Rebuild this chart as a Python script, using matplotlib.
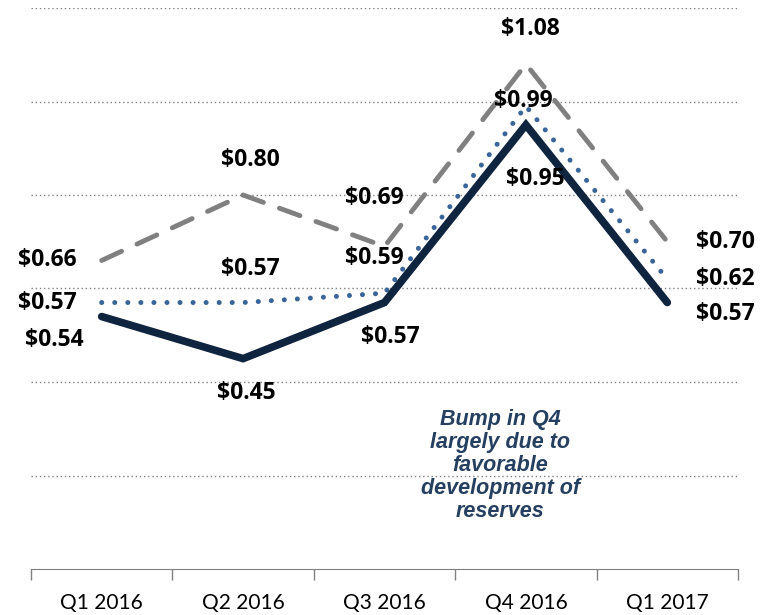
import matplotlib.pyplot as plt
import numpy as np

# Data
quarters = ['Q1 2016', 'Q2 2016', 'Q3 2016', 'Q4 2016', 'Q1 2017']
dashed_vals = [0.66, 0.80, 0.69, 1.08, 0.70]
dotted_vals = [0.57, 0.57, 0.59, 0.99, 0.62]
solid_vals = [0.54, 0.45, 0.57, 0.95, 0.57]
note = 'Bump in Q4\nlargely due to\nfavorable\ndevelopment of\nreserves'

# label offsets (points) for each series
dashed_off = [(-39, 0), (5, 25), (-7, 35), (3, 25), (42, 0)]
dotted_off = [(-39, 0), (5, 24), (-7, 25), (-2, 4), (42, 0)]
solid_off = [(-34, -17), (2, -25), (4, -25), (7, -39), (42, -8)]

fig = plt.figure(figsize=(7.68, 6.15), dpi=100)
ax = fig.add_axes([31 / 768, 46 / 615, 707 / 768, 561 / 615])

x = np.arange(len(quarters))
ax.plot(x, dashed_vals, color='#808080', lw=3.5, linestyle=(0, (4.5, 3.5)),
        dash_capstyle='round', zorder=2)
ax.plot(x, dotted_vals, color='#3A6599', lw=3.6, linestyle=(0, (0.01, 2.6)),
        dash_capstyle='round', zorder=3)
ax.plot(x, solid_vals, color='#0F243E', lw=5.5, solid_capstyle='round',
        solid_joinstyle='miter', zorder=4)

for vals, offs in [(dashed_vals, dashed_off), (dotted_vals, dotted_off), (solid_vals, solid_off)]:
    for i, v in enumerate(vals):
        ax.annotate(f'${v:.2f}', (i, v), xytext=offs[i], textcoords='offset points',
                    ha='center', va='center', fontsize=16.5, fontweight='bold',
                    family='Open Sans', color='black', zorder=5)

ax.text(2.82, 0.222, note, ha='center', va='center', fontsize=15.5,
        fontweight='bold', style='italic', family='Liberation Sans',
        color='#243F60', linespacing=1.12)

ax.set_xlim(-0.5, 4.5)
ax.set_ylim(0, 1.2)
ax.set_yticks(np.arange(0.2, 1.21, 0.2))
ax.yaxis.grid(True, color='#808080', linestyle=(0, (1, 2)), linewidth=1)
ax.tick_params(axis='y', left=False, labelleft=False)

ax.set_xticks(x)
ax.set_xticklabels(quarters, fontsize=15, family='Lato')
ax.set_xticks(np.arange(-0.5, 4.6, 1), minor=True)
ax.tick_params(axis='x', which='major', length=0, pad=17)
ax.tick_params(axis='x', which='minor', length=8, color='#808080', width=1)

for s in ['top', 'left', 'right']:
    ax.spines[s].set_visible(False)
ax.spines['bottom'].set_color('#808080')
ax.set_axisbelow(True)

fig.savefig('out.png', dpi=100)
